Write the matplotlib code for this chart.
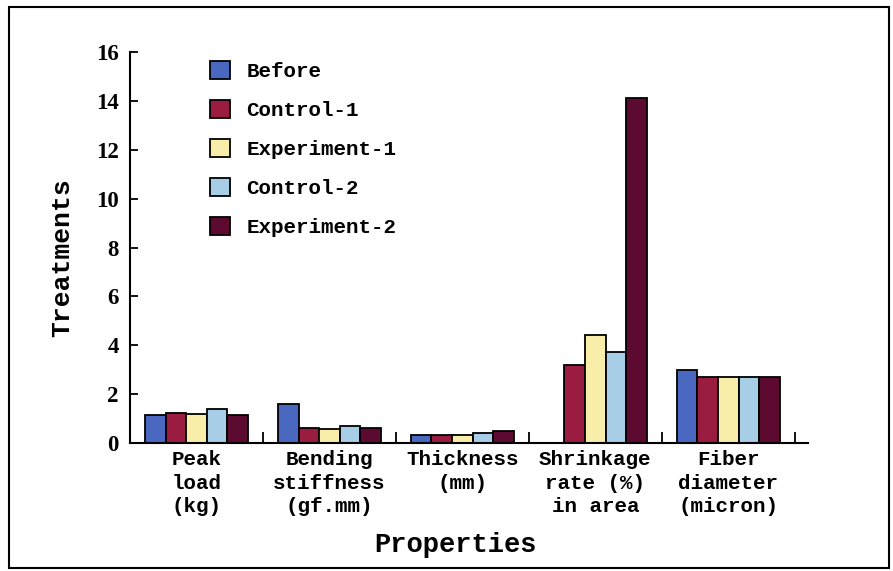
import matplotlib
matplotlib.use('Agg')
import matplotlib.pyplot as plt
import numpy as np
from matplotlib.patches import Rectangle

categories = ['Peak\nload\n(kg)', 'Bending\nstiffness\n(gf.mm)', 'Thickness\n(mm)',
              'Shrinkage\nrate (%)\nin area', 'Fiber\ndiameter\n(micron)']
series = ['Before', 'Control-1', 'Experiment-1', 'Control-2', 'Experiment-2']
before = [1.15, 1.6, 0.33, 0.0, 3.0]
control1 = [1.22, 0.62, 0.33, 3.2, 2.7]
experiment1 = [1.2, 0.57, 0.33, 4.42, 2.7]
control2 = [1.38, 0.7, 0.4, 3.73, 2.7]
experiment2 = [1.15, 0.62, 0.48, 14.1, 2.7]
colors = ['#4a68c0', '#9a1c40', '#f8eeaa', '#a8cde6', '#5c0a30']

mono = 'Liberation Mono'
serif = 'Liberation Serif'

fig = plt.figure(figsize=(8.93, 5.71), dpi=100)
ax = fig.add_axes([130/893, 1-443/571, 678/893, 391/571])

x = np.arange(len(categories))
w = 0.155
data = [before, control1, experiment1, control2, experiment2]
for i, (name, vals, c) in enumerate(zip(series, data, colors)):
    ax.bar(x + (i - 2) * w, vals, w, color=c, edgecolor='black', linewidth=1.3, label=name)

ax.set_xlim(-0.5, 4.6)
ax.set_ylim(0, 16)
ax.set_yticks(range(0, 17, 2))
ax.set_xticks(np.arange(-0.5, 5, 1))
ax.set_xticklabels([])
ax.tick_params(axis='y', direction='in', length=6, width=1.3, pad=8)
ax.tick_params(axis='x', direction='in', length=8, width=1.3)
for lab in ax.get_yticklabels():
    lab.set_fontfamily(serif)
    lab.set_fontweight('bold')
    lab.set_fontsize(16.5)
for s in ['top', 'right']:
    ax.spines[s].set_visible(False)
for s in ['left', 'bottom']:
    ax.spines[s].set_linewidth(1.5)

for xi, cat in zip(x, categories):
    ax.text(xi, -0.3, cat, ha='center', va='top', family=mono, fontsize=15,
            fontweight='bold', linespacing=1.3)

fig.text(455/893, 1-545/571, 'Properties', ha='center', va='center',
         family=mono, fontsize=19.5, fontweight='bold')
fig.text(62/893, 1-258/571, 'Treatments', ha='center', va='center', rotation=90,
         family=mono, fontsize=19, fontweight='bold')

ax.legend(loc='upper left', bbox_to_anchor=(0.09, 1.025), frameon=False,
          prop={'family': mono, 'size': 15, 'weight': 'bold'},
          handlelength=0.95, handleheight=0.95, labelspacing=0.9, handletextpad=0.8)

fig.patches.append(Rectangle((9/893, 1-568/571), 880/893, 561/571, transform=fig.transFigure,
                             fill=False, edgecolor='black', linewidth=1.5))

fig.savefig('out.png', dpi=100)
